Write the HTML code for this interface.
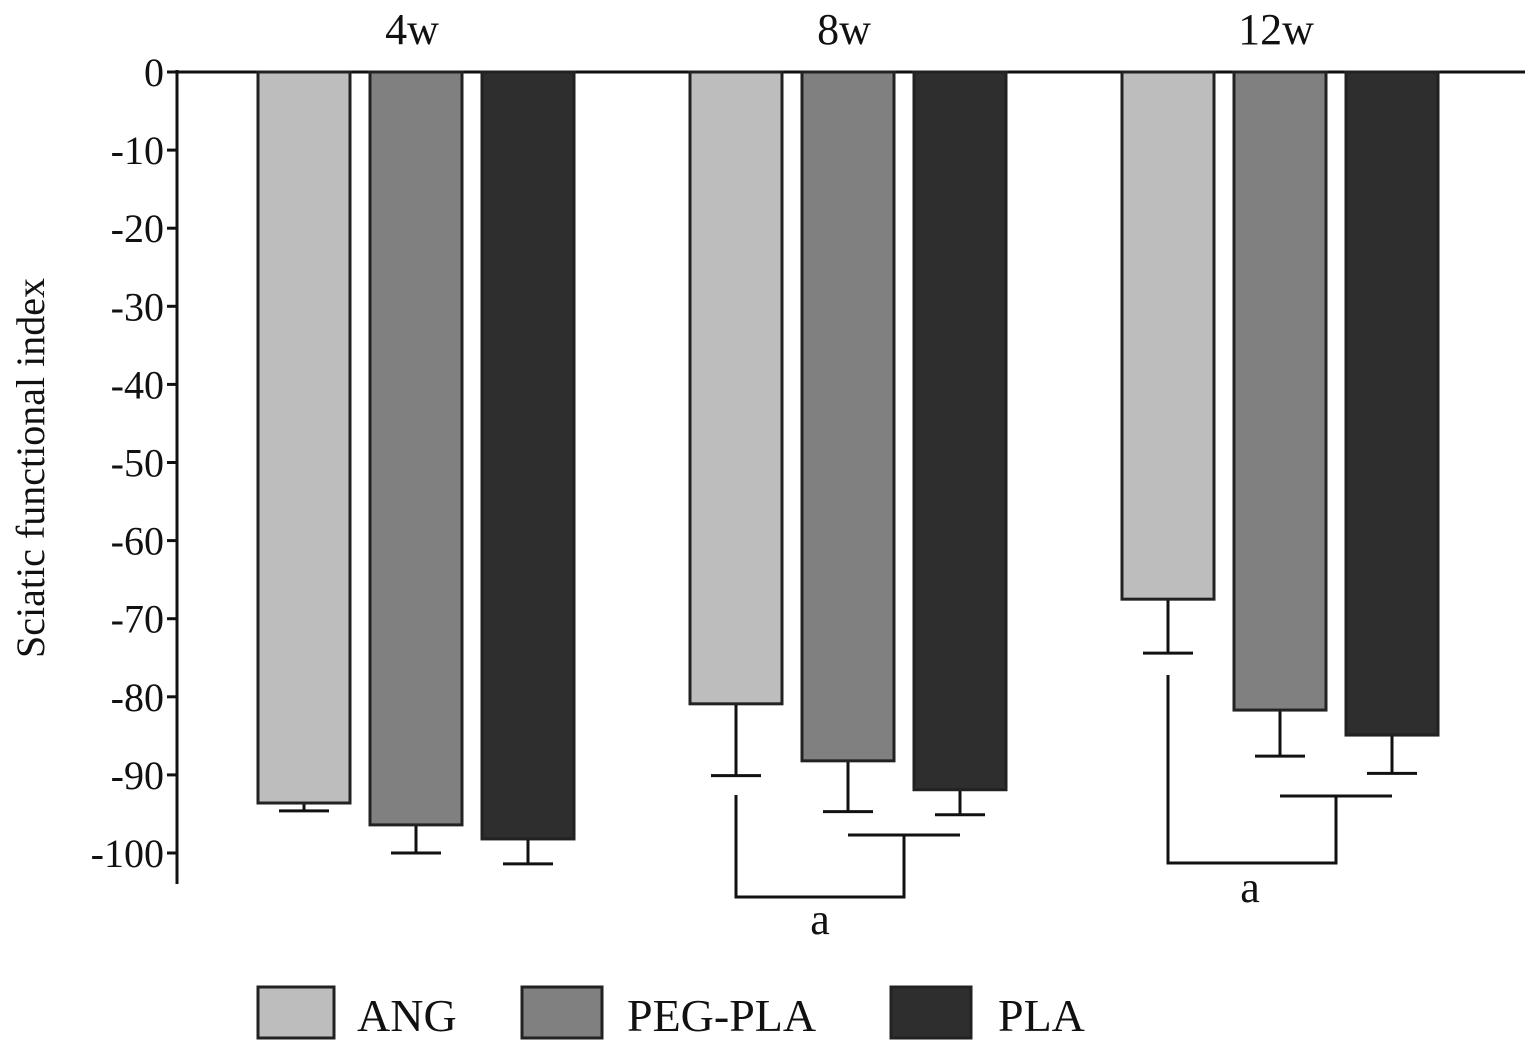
<!DOCTYPE html>
<html><head><meta charset="utf-8"><style>
body{margin:0;background:#fff}
svg{display:block;font-family:"Liberation Serif",serif}
</style></head><body>
<svg id="chart" width="1525" height="1049" viewBox="0 0 1525 1049">
<g id="axes"></g><g id="bars"></g><g id="ann"></g><g id="legend"></g>
</svg>
<script>
const groups=["4w","8w","12w"];
const seriesNames=["ANG","PEG-PLA","PLA"];
const ang=[-93.6,-80.9,-67.5];
const pegpla=[-96.4,-88.2,-81.7];
const pla=[-98.2,-91.9,-84.9];
const angErr=[1.0,9.2,6.9];
const pegplaErr=[3.6,6.5,5.9];
const plaErr=[3.2,3.2,4.9];
const yTicks=[0,-10,-20,-30,-40,-50,-60,-70,-80,-90,-100];
const colors=["#bdbdbd","#808080","#2e2e2e"];
const NS="http://www.w3.org/2000/svg";
function y(v){return 72+(-v)*7.81;}
const groupX=[258,690,1122];
function barX(g,s){return groupX[g]+s*112;}
const bw=92;
function mk(tag,attrs,parent,text){const e=document.createElementNS(NS,tag);for(const k in attrs)e.setAttribute(k,attrs[k]);if(text!==undefined)e.textContent=text;parent.appendChild(e);return e;}
const axes=document.getElementById('axes');
let l=mk('line',{x1:177,y1:72,x2:1525,y2:72,stroke:'#111','stroke-width':3},axes);


l=mk('line',{x1:177,y1:70,x2:177,y2:884,stroke:'#111','stroke-width':3},axes);


yTicks.forEach(t=>{
  const tk=mk('line',{x1:167,y1:y(t),x2:177,y2:y(t),stroke:'#111','stroke-width':3},axes);
  
  
  const tx=mk('text',{x:164,y:y(t)+14,'text-anchor':'end','font-size':40,fill:'#111'},axes,String(t));
  
  
});
const yt=mk('text',{x:0,y:0,transform:'translate(44,468) rotate(-90)','text-anchor':'middle','font-size':40,fill:'#111'},axes,'Sciatic functional index');


groups.forEach((g,i)=>{
  const t=mk('text',{x:groupX[i]+154,y:44,'text-anchor':'middle','font-size':44,fill:'#111'},axes,g);
  
  
});
const bars=document.getElementById('bars');
const vals=[ang,pegpla,pla],errs=[angErr,pegplaErr,plaErr];
groups.forEach((g,gi)=>{
  vals.forEach((arr,si)=>{
    const x=barX(gi,si),v=arr[gi],e=errs[si][gi];
    const cx=x+bw/2;
    const el=mk('line',{x1:cx,y1:y(v),x2:cx,y2:y(v-e),stroke:'#111','stroke-width':3},bars);
    
    
    const cap=mk('line',{x1:cx-25,y1:y(v-e),x2:cx+25,y2:y(v-e),stroke:'#111','stroke-width':3},bars);
    
    
    const r=mk('rect',{x:x,y:y(0),width:bw,height:y(v)-y(0),fill:colors[si],stroke:'#222','stroke-width':3},bars);
    
    
  });
});
const ann=document.getElementById('ann');
function pl(pts,name){const p=mk('polyline',{points:pts,fill:'none',stroke:'#111','stroke-width':3},ann);}
pl('736,795 736,897 904,897 904,835','bracket-8w');
pl('848,835 960,835','bracket-8w-top');
pl('1168,675 1168,863 1336,863 1336,796','bracket-12w');
pl('1280,796 1392,796','bracket-12w-top');
let a=mk('text',{x:820,y:934,'text-anchor':'middle','font-size':44,fill:'#111'},ann,'a');

a=mk('text',{x:1250,y:902,'text-anchor':'middle','font-size':44,fill:'#111'},ann,'a');

const leg=document.getElementById('legend');
const lx=[258,522,891],tx=[357,627,998],lw=[76,80,80];
seriesNames.forEach((n,i)=>{
  const r=mk('rect',{x:lx[i],y:987,width:lw[i],height:51,fill:colors[i],stroke:'#222','stroke-width':3},leg);
  
  
  const t=mk('text',{x:tx[i],y:1031,'font-size':46,fill:'#111'},leg,n);
  
  
});
</script>
</body></html>
